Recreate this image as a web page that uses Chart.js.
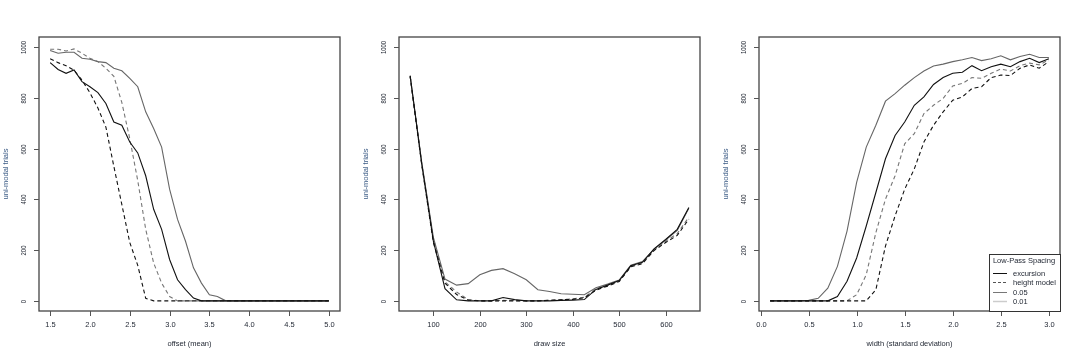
<!DOCTYPE html>
<html>
<head>
<meta charset="utf-8">
<script src="https://cdn.jsdelivr.net/npm/chart.js@4"></script>
<style>
  html, body { margin: 0; padding: 0; background: #fff; }
  #wrap { position: relative; width: 1080px; height: 360px; }
  canvas { position: absolute; top: 0; }
</style>
</head>
<body>
<div id="wrap">
  <canvas id="c1" width="360" height="360" style="left:0"></canvas>
  <canvas id="c2" width="360" height="360" style="left:360px"></canvas>
  <canvas id="c3" width="360" height="360" style="left:720px"></canvas>
</div>
<script>
// panel 1 : offset (mean)
var offsetX = [1.5,1.6,1.7,1.8,1.9,2.0,2.1,2.2,2.3,2.4,2.5,2.6,2.7,2.8,2.9,3.0,3.1,3.2,3.3,3.4,3.5,3.6,3.7,3.8,3.9,4.0,4.1,4.2,4.3,4.4,4.5,4.6,4.7,4.8,4.9,5.0];
var offsetExcA = [939,912,897,910,864,844,821,778,705,692,626,583,493,361,282,163,83,44,11,0,0,0,0,0,0,0,0,0,0,0,0,0,0,0,0,0];
var offsetHgtA = [954,939,927,909,870,820,760,685,530,380,230,140,10,0,0,0,0,0,0,0,0,0,0,0,0,0,0,0,0,0,0,0,0,0,0,0];
var offsetExcB = [987,976,980,980,956,952,943,939,917,907,877,844,745,679,606,440,321,235,130,70,24,17,1,0,0,0,0,0,0,0,0,0,0,0,0,0];
var offsetHgtB = [992,992,985,993,976,956,943,917,885,782,639,474,282,149,70,17,0,0,0,0,0,0,0,0,0,0,0,0,0,0,0,0,0,0,0,0];

// panel 2 : draw size
var drawX = [50,75,100,125,150,175,200,225,250,275,300,325,350,375,400,425,450,475,500,525,550,575,600,625,650];
var drawExcA = [888,540,235,48,4,0,0,0,13,5,0,0,0,2,3,5,45,62,80,138,152,205,242,282,368];
var drawHgtA = [885,535,230,70,25,3,0,0,0,0,0,0,2,4,6,12,42,58,76,134,146,198,230,258,322];
var drawExcB = [885,545,250,86,62,68,103,120,127,107,83,44,37,28,26,24,52,66,82,140,155,203,240,278,365];
var drawHgtB = [885,540,245,75,35,5,0,0,2,1,0,0,2,5,8,14,48,60,78,136,150,200,235,265,330];

// panel 3 : width (standard deviation)
var widthX = [0.1,0.2,0.3,0.4,0.5,0.6,0.7,0.8,0.9,1.0,1.1,1.2,1.3,1.4,1.5,1.6,1.7,1.8,1.9,2.0,2.1,2.2,2.3,2.4,2.5,2.6,2.7,2.8,2.9,3.0];
var widthExcA = [0,0,0,0,0,0,0,17,77,169,295,427,560,652,705,771,804,853,880,897,901,927,907,923,933,923,943,956,939,954];
var widthHgtA = [0,0,0,0,0,0,0,0,0,0,0,44,216,335,440,520,626,692,745,791,804,837,844,880,890,888,917,930,917,943];
var widthExcB = [0,0,0,0,2,10,50,136,275,467,606,692,787,817,850,880,906,926,933,943,950,959,947,954,966,950,963,972,959,959];
var widthHgtB = [0,0,0,0,0,0,0,0,0,24,103,269,401,493,619,659,738,771,798,847,857,880,877,897,914,906,927,937,930,950];

var yTicks = [0,200,400,600,800,1000];
var offsetTicks = [1.5,2.0,2.5,3.0,3.5,4.0,4.5,5.0];
var offsetTickLabels = ['1.5','2.0','2.5','3.0','3.5','4.0','4.5','5.0'];
var drawTicks = [100,200,300,400,500,600];
var drawTickLabels = ['100','200','300','400','500','600'];
var widthTicks = [0,0.5,1.0,1.5,2.0,2.5,3.0];
var widthTickLabels = ['0.0','0.5','1.0','1.5','2.0','2.5','3.0'];

var legendTitle = 'Low-Pass Spacing';
var legendLabels = ['excursion','height model','0.05','0.01'];

var FONT = '7.5px "Liberation Sans", Arial, sans-serif';

// R style box, ticks and labels, drawn off the chart scales
var rAxes = {
	id: 'rAxes',
	afterDraw: function(chart){
		var o = chart.options.plugins.rAxes;
		var ctx = chart.ctx, a = chart.chartArea;
		var sx = chart.scales.x, sy = chart.scales.y;
		ctx.save();
		ctx.strokeStyle = '#444';
		ctx.lineWidth = 1.3;
		ctx.strokeRect(a.left, a.top, a.right - a.left, a.bottom - a.top);

		ctx.font = FONT;
		ctx.fillStyle = '#1e2430';
		ctx.strokeStyle = '#555';
		ctx.lineWidth = 1;
		ctx.textAlign = 'center';
		ctx.textBaseline = 'middle';
		o.xTicks.forEach(function(t, i){
			var px = Math.round(sx.getPixelForValue(t)) + 0.5;
			ctx.beginPath(); ctx.moveTo(px, a.bottom); ctx.lineTo(px, a.bottom + 5); ctx.stroke();
			ctx.fillText(o.xLabels[i], px, a.bottom + 14);
		});
		yTicks.forEach(function(t){
			var py = Math.round(sy.getPixelForValue(t)) + 0.5;
			ctx.beginPath(); ctx.moveTo(a.left - 5, py); ctx.lineTo(a.left, py); ctx.stroke();
			ctx.save();
			ctx.translate(a.left - 15, py);
			ctx.rotate(-Math.PI / 2);
			ctx.scale(0.78, 1);
			ctx.fillText(String(t), 0, 0);
			ctx.restore();
		});
		ctx.fillText(o.xTitle, (a.left + a.right) / 2, 344);
		ctx.save();
		ctx.fillStyle = '#3b5b85';
		ctx.translate(6, (a.top + a.bottom) / 2);
		ctx.rotate(-Math.PI / 2);
		ctx.fillText(o.yTitle, 0, 0);
		ctx.restore();

		if (o.legend) {
			var lx = a.right - 71, ly = a.bottom - 57;
			ctx.fillStyle = '#fff';
			ctx.fillRect(lx, ly, a.right - lx, a.bottom - ly);
			ctx.strokeStyle = '#333';
			ctx.strokeRect(lx + 0.5, ly + 0.5, a.right - lx, a.bottom - ly);
			ctx.fillStyle = '#1e2430';
			ctx.fillText(legendTitle, lx + 35, ly + 7);
			var styles = [
				{c: '#111', d: [], w: 1},
				{c: '#555', d: [3, 2], w: 1},
				{c: '#777', d: [], w: 1},
				{c: '#ccc', d: [], w: 1.5}
			];
			ctx.textAlign = 'left';
			legendLabels.forEach(function(lab, i){
				var yy = Math.round(ly + 19 + i * 9.4) + 0.5;
				ctx.strokeStyle = styles[i].c;
				ctx.lineWidth = styles[i].w;
				ctx.setLineDash(styles[i].d);
				ctx.beginPath(); ctx.moveTo(lx + 4, yy); ctx.lineTo(lx + 18, yy); ctx.stroke();
				ctx.setLineDash([]);
				ctx.fillText(lab, lx + 24, yy);
			});
		}
		ctx.restore();
	}
};

function series(xs, ys, color, dash){
	return {
		data: xs.map(function(x, i){ return {x: x, y: ys[i]}; }),
		borderColor: color,
		borderWidth: 1.1,
		borderDash: dash,
		pointRadius: 0,
		tension: 0,
		fill: false
	};
}

function makeChart(id, xs, sets, xmin, xmax, ticks, labels, title, legend){
	var lo = xmin - (xmax - xmin) * 0.04, hi = xmax + (xmax - xmin) * 0.04;
	return new Chart(document.getElementById(id).getContext('2d'), {
		type: 'line',
		data: {
			datasets: [
				series(xs, sets[0], '#111', []),
				series(xs, sets[1], '#111', [4, 3]),
				series(xs, sets[2], '#666', []),
				series(xs, sets[3], '#777', [4, 3])
			]
		},
		options: {
			responsive: false,
			animation: false,
			layout: { padding: { left: 39, right: 20, top: 37, bottom: 49 } },
			scales: {
				x: { type: 'linear', min: lo, max: hi, display: false },
				y: { type: 'linear', min: -40, max: 1040, display: false }
			},
			plugins: {
				legend: { display: false },
				tooltip: { enabled: false },
				rAxes: { xTicks: ticks, xLabels: labels, xTitle: title, yTitle: 'uni-modal trials', legend: legend }
			}
		},
		plugins: [rAxes]
	});
}

makeChart('c1', offsetX, [offsetExcA, offsetHgtA, offsetExcB, offsetHgtB], 1.5, 5.0, offsetTicks, offsetTickLabels, 'offset (mean)', false);
makeChart('c2', drawX, [drawExcA, drawHgtA, drawExcB, drawHgtB], 50, 650, drawTicks, drawTickLabels, 'draw size', false);
makeChart('c3', widthX, [widthExcA, widthHgtA, widthExcB, widthHgtB], 0.1, 3.0, widthTicks, widthTickLabels, 'width (standard deviation)', true);
</script>
</body>
</html>
